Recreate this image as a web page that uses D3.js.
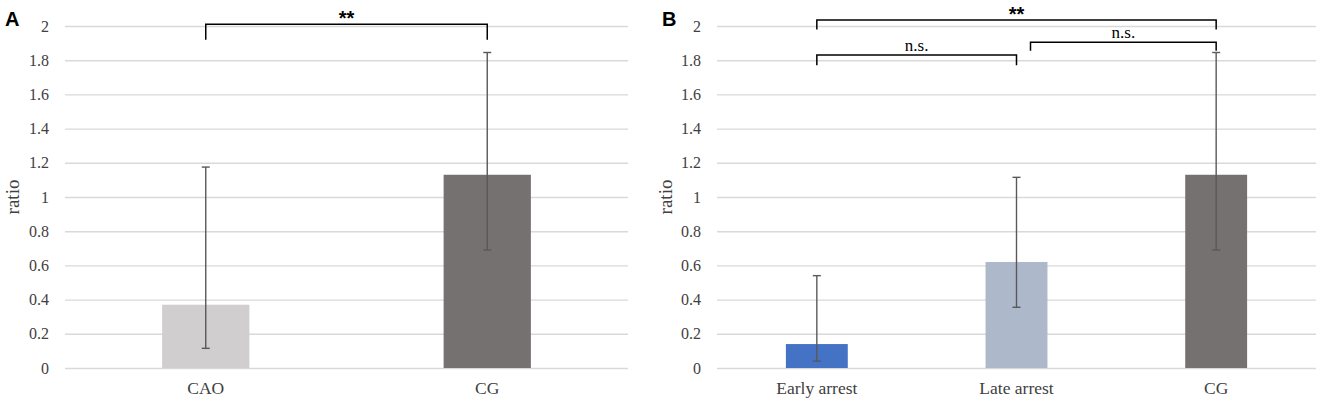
<!DOCTYPE html>
<html>
<head>
<meta charset="utf-8">
<script src="https://cdn.jsdelivr.net/npm/d3@7"></script>
<style>
  body { margin: 0; background: #fff; }
  svg { display: block; }
</style>
</head>
<body>
<div id="chart"></div>
<script>
// Panel A data
const catsA = ['CAO', 'CG'];
const meansA = [0.37, 1.13];
const lowA = [0.115, 0.69];
const highA = [1.175, 1.845];
const colorsA = ['#d0cece', '#767171'];

// Panel B data
const catsB = ['Early arrest', 'Late arrest', 'CG'];
const meansB = [0.14, 0.62, 1.13];
const lowB = [0.04, 0.355, 0.69];
const highB = [0.54, 1.115, 1.845];
const colorsB = ['#4472c4', '#adb9ca', '#767171'];

const yTicks = [0, 0.2, 0.4, 0.6, 0.8, 1, 1.2, 1.4, 1.6, 1.8, 2];

// Significance comparisons: [from, to, label]
const sigA = [['CAO', 'CG', '**']];
const sigB = [['Early arrest', 'CG', '**'], ['Early arrest', 'Late arrest', 'n.s.'], ['Late arrest', 'CG', 'n.s.']];

const W = 1325, H = 401;
const serif = '"Liberation Serif", "Times New Roman", serif';
const svg = d3.select('#chart').append('svg').attr('width', W).attr('height', H);

const y = d3.scaleLinear().domain([0, 2]).range([368, 26]);

function panel(opt) {
    const x = d3.scaleBand().domain(opt.cats).range([opt.x0, opt.x1]).padding(0);
    const bw = x.bandwidth() * 0.31;
    const g = svg.append('g');

    // grid + tick labels
    const axis = g.append('g')
        .attr('transform', `translate(${opt.x0},0)`)
        .call(d3.axisLeft(y).tickValues(yTicks).tickFormat(d3.format('~g')).tickSize(-(opt.x1 - opt.x0)).tickPadding(16))
        .attr('font-family', serif)
        .attr('font-size', 16);
    axis.select('.domain').remove();
    axis.selectAll('.tick line').attr('stroke', '#d9d9d9').attr('stroke-width', 1.4);
    axis.selectAll('.tick text').attr('fill', '#404040');

    // y-axis title
    g.append('text')
        .attr('transform', `translate(${opt.titleX},197) rotate(-90)`)
        .attr('text-anchor', 'middle')
        .style('font-family', serif)
        .style('font-size', '19px')
        .style('fill', '#404040')
        .text('ratio');

    // bars
    g.selectAll('rect.bar').data(opt.cats).enter().append('rect')
        .attr('x', d => x(d) + x.bandwidth() / 2 - bw / 2)
        .attr('width', bw)
        .attr('y', (d, i) => y(opt.means[i]))
        .attr('height', (d, i) => y(0) - y(opt.means[i]))
        .attr('fill', (d, i) => opt.colors[i]);

    // error bars
    const eb = g.selectAll('g.err').data(opt.cats).enter().append('g')
        .attr('stroke', '#595959').attr('stroke-width', 1.4);
    eb.append('line')
        .attr('x1', d => x(d) + x.bandwidth() / 2).attr('x2', d => x(d) + x.bandwidth() / 2)
        .attr('y1', (d, i) => y(opt.low[i])).attr('y2', (d, i) => y(opt.high[i]));
    ['low', 'high'].forEach(k => {
        eb.append('line')
            .attr('x1', d => x(d) + x.bandwidth() / 2 - 4).attr('x2', d => x(d) + x.bandwidth() / 2 + 4)
            .attr('y1', (d, i) => y(opt[k][i])).attr('y2', (d, i) => y(opt[k][i]));
    });

    // category labels
    g.selectAll('text.cat').data(opt.cats).enter().append('text')
        .attr('x', d => x(d) + x.bandwidth() / 2)
        .attr('y', 394)
        .attr('text-anchor', 'middle')
        .style('font-family', serif)
        .style('font-size', '17.5px')
        .style('fill', '#404040')
        .text(d => d);

    // significance brackets
    opt.sig.forEach((s, i) => {
        const lv = opt.levels[i];
        const star = s[2] === '**';
        const xa = x(s[0]) + x.bandwidth() / 2 + (lv.off || 0);
        const xb = x(s[1]) + x.bandwidth() / 2;
        const yt = y(lv.top), yd = y(lv.down);
        g.append('path')
            .attr('d', `M${xa},${yd}V${yt}H${xb}V${yd}`)
            .attr('fill', 'none').attr('stroke', '#000').attr('stroke-width', 1.5);
        g.append('text')
            .attr('x', (xa + xb) / 2)
            .attr('y', star ? yt + 1 : yt - 4)
            .attr('text-anchor', 'middle')
            .style('font-family', star ? 'Arial, "Liberation Sans", sans-serif' : serif)
            .style('font-weight', star ? 'bold' : 'normal')
            .style('font-size', star ? '20px' : '17px')
            .text(s[2]);
    });

    // panel letter
    svg.append('text')
        .attr('x', opt.letterX).attr('y', 26)
        .style('font-family', 'Arial, "Liberation Sans", sans-serif')
        .style('font-weight', 'bold')
        .style('font-size', '20px')
        .text(opt.letter);
}

panel({
    cats: catsA, means: meansA, low: lowA, high: highA, colors: colorsA, sig: sigA,
    levels: [{ top: 2.01, down: 1.92 }],
    x0: 65, x1: 628, titleX: 19, letterX: 5, letter: 'A'
});

panel({
    cats: catsB, means: meansB, low: lowB, high: highB, colors: colorsB, sig: sigB,
    levels: [{ top: 2.035, down: 1.98 }, { top: 1.83, down: 1.77 }, { top: 1.905, down: 1.855, off: 14 }],
    x0: 717, x1: 1316, titleX: 672, letterX: 662, letter: 'B'
});
</script>
</body>
</html>
